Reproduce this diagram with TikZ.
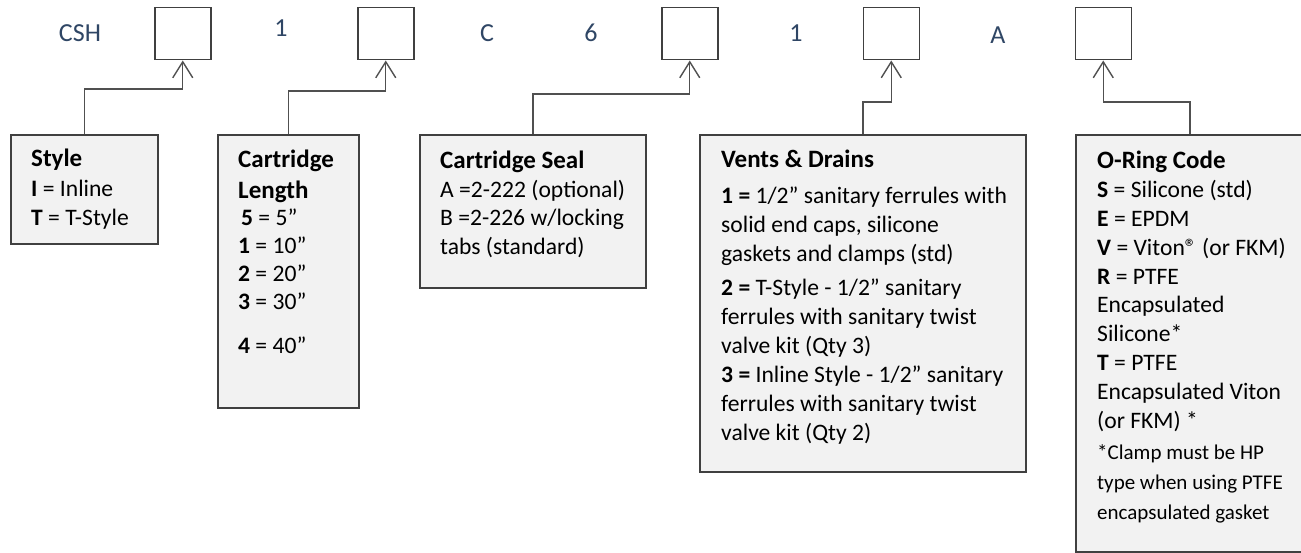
\documentclass[tikz,border=0pt]{standalone}
\usepackage{fontspec}
\setmainfont{Carlito}
\usetikzlibrary{arrows.meta}
\definecolor{lbl}{RGB}{47,70,101}
\definecolor{edgecol}{RGB}{64,64,64}
\definecolor{boxfill}{RGB}{242,242,242}
\definecolor{conncol}{RGB}{80,80,80}
\newcommand\txtsz[1]{\fontsize{23.6}{#1}\selectfont}
\newcommand\hdg[1]{{\fontsize{25}{25}\selectfont\textbf{#1}}}
\newcommand\notesz{\fontsize{21}{30}\selectfont}
\begin{document}
\begin{tikzpicture}[x=1pt,y=-1pt,
  codebox/.style={draw=edgecol, line width=1.5pt, minimum width=56pt, minimum height=52pt, inner sep=0pt, anchor=north west},
  infobox/.style={draw=edgecol, fill=boxfill, line width=2pt, inner sep=0pt, anchor=north west},
  lab/.style={text=lbl, font=\fontsize{26}{30}\selectfont, anchor=base, inner sep=0pt},
  txt/.style={anchor=base west, inner sep=0pt, text=black},
  conn/.style={draw=conncol, line width=1.4pt, -{Straight Barb[length=16pt,width=20pt,line width=1.4pt]}}]
\useasboundingbox (0,0) rectangle (1301,553);
\fill[white] (0,0) rectangle (1301,553);
\begin{scope}
\clip (0,0) rectangle (1301,553);
% code boxes
\node[codebox] (b1) at (154,7) {};
\node[codebox] (b2) at (357,7) {};
\node[codebox] (b3) at (661,7) {};
\node[codebox] (b4) at (862.5,7) {};
\node[codebox] (b5) at (1074.5,7) {};
% fixed labels
\node[lab] (lCSH) at (80,42) {CSH};
\node[lab] (lOne) at (281,37) {1};
\node[lab] (lC) at (487,42) {C};
\node[lab] (lSix) at (591,42) {6};
\node[lab] (lOneB) at (796,42) {1};
\node[lab] (lA) at (998,44) {A};
% info boxes
\node[infobox, minimum width=147pt, minimum height=109pt] (styleBox) at (10,134) {};
\node[infobox, minimum width=141pt, minimum height=273pt] (lenBox) at (217,134) {};
\node[infobox, minimum width=226pt, minimum height=153pt] (sealBox) at (419,134) {};
\node[infobox, minimum width=326pt, minimum height=337pt] (ventBox) at (699,134) {};
\node[infobox, minimum width=228pt, minimum height=417pt] (oringBox) at (1075,134) {};
% texts
\node[txt] (styleTxt) at (31,167) {\begin{minipage}[t]{125pt}\raggedright\txtsz{29.5}
\hdg{Style}\\
\textbf{I} = Inline\\
\textbf{T} = T-Style\end{minipage}};
\node[txt] (lenTxt) at (238,168) {\begin{minipage}[t]{125pt}\raggedright\txtsz{28}
\hdg{Cartridge}\\[3pt]
\hdg{Length}\\[-1pt]
\hspace*{3pt}\textbf{5} = 5”\\
\textbf{1} = 10”\\
\textbf{2} = 20”\\
\textbf{3} = 30”\\[16pt]
\textbf{4} = 40”\end{minipage}};
\node[txt] (sealTxt) at (440,169) {\begin{minipage}[t]{220pt}\raggedright\txtsz{28.5}
\hdg{Cartridge Seal}\\
A =2-222 (optional)\\
B =2-226 w/locking\\
tabs (standard)\end{minipage}};
\node[txt] (ventTxt) at (721,168) {\begin{minipage}[t]{320pt}\raggedright\txtsz{29}
\hdg{Vents \& Drains}\\[7pt]
\textbf{1 =} 1/2” sanitary ferrules with\\
solid end caps, silicone\\
gaskets and clamps (std)\\[5pt]
\textbf{2 =} T-Style - 1/2” sanitary\\
ferrules with sanitary twist\\
valve kit (Qty 3)\\[0pt]
\textbf{3 =} Inline Style - 1/2” sanitary\\
ferrules with sanitary twist\\
valve kit (Qty 2)\end{minipage}};
\node[txt] (oringTxt) at (1097,169) {\begin{minipage}[t]{220pt}\raggedright\txtsz{28.8}
\hdg{O-Ring Code}\\
\textbf{S} = Silicone (std)\\
\textbf{E} = EPDM\\
\textbf{V} = Viton® (or FKM)\\
\textbf{R} = PTFE\\
Encapsulated\\
Silicone*\\
\textbf{T} = PTFE\\
Encapsulated Viton\\
(or FKM) *\\[1pt]
{\notesz *Clamp must be HP\\
type when using PTFE\\
encapsulated gasket\par}\end{minipage}};
% connectors
\draw[conn] (styleBox.north) |- (b1.south |- 0,89) -- (b1.south);
\draw[conn] (lenBox.north) |- (b2.south |- 0,91) -- (b2.south);
\draw[conn] (sealBox.north) |- (b3.south |- 0,94) -- (b3.south);
\draw[conn] (ventBox.north) |- (b4.south |- 0,102) -- (b4.south);
\draw[conn] (oringBox.north) |- (b5.south |- 0,102) -- (b5.south);
\end{scope}
\end{tikzpicture}
\end{document}
